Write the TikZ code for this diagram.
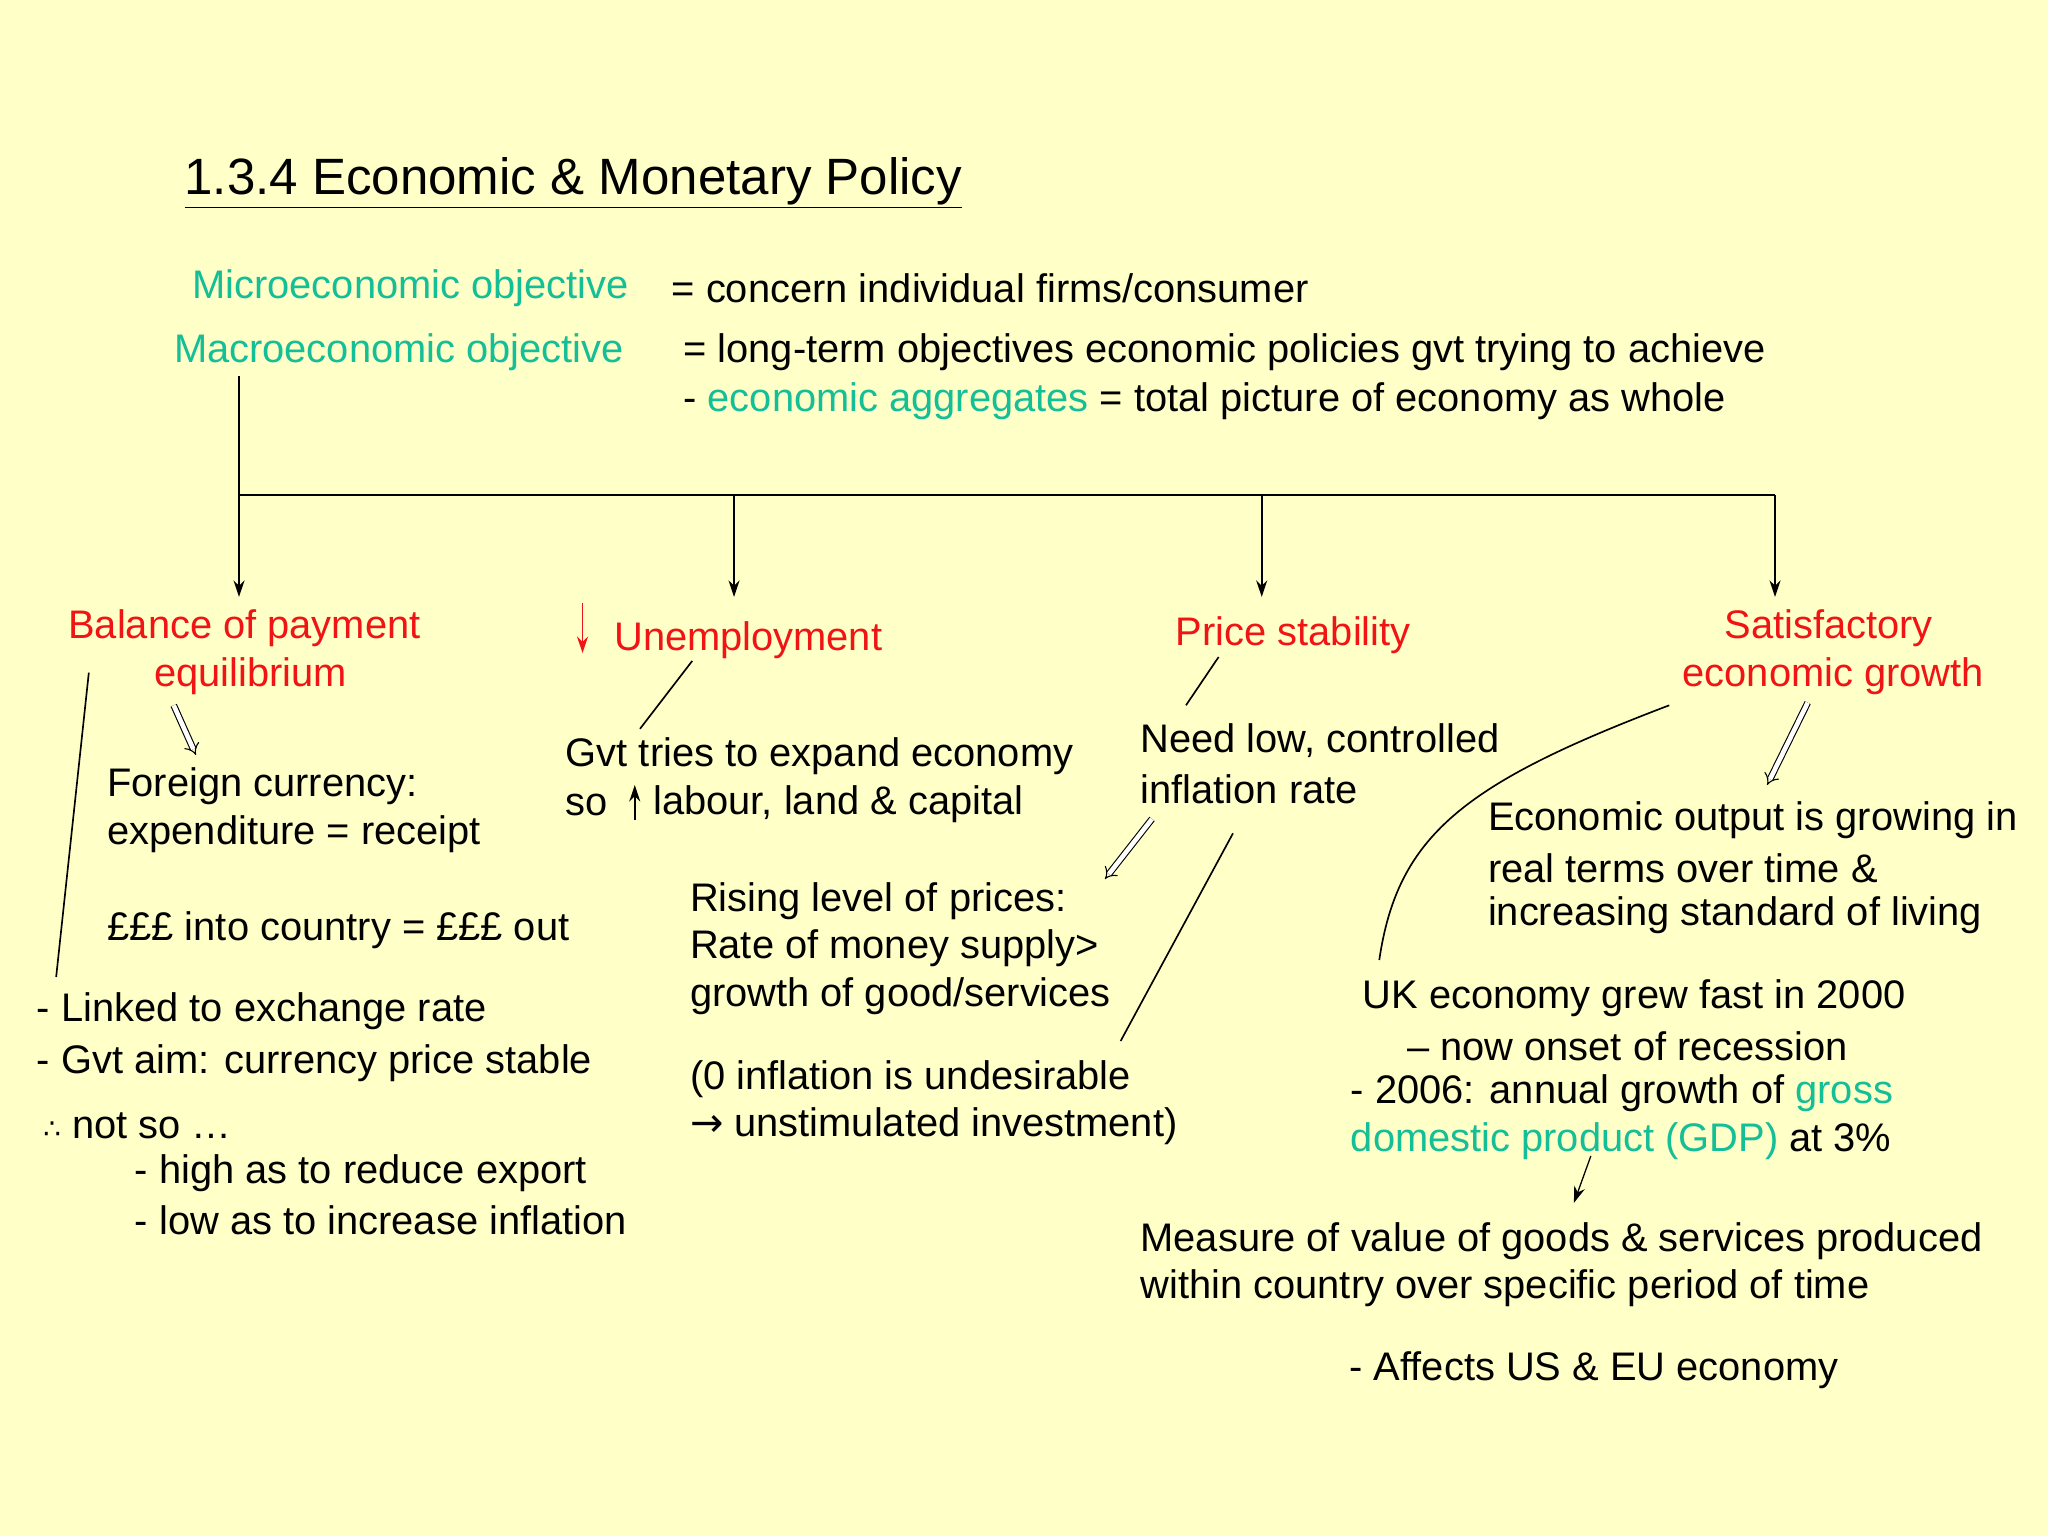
\documentclass[tikz,border=0pt]{standalone}
\usepackage{fontspec}
\setmainfont{Liberation Sans}
\newfontfamily\symf{DejaVu Sans}
\usetikzlibrary{arrows.meta}
\definecolor{bgc}{RGB}{255,255,200}
\definecolor{teal2}{RGB}{20,190,150}
\definecolor{red2}{RGB}{240,20,20}
\begin{document}
\begin{tikzpicture}[x=0.025cm,y=-0.025cm,
  t/.style={anchor=west,inner sep=0,font=\fontsize{21.7}{26}\selectfont},
  tt/.style={t,text=teal2},
  tr/.style={t,text=red2},
  ar/.style={-{Stealth[length=9pt,width=6pt]},line width=0.9pt},
  ln/.style={line width=0.9pt},
  dbl/.style={double,double distance=2.5pt,line width=0.6pt,-{Implies[length=8pt]}}]
\fill[bgc] (0,0) rectangle (1568,1176);
\useasboundingbox (0,0) rectangle (1568,1176);
\node[t,font=\fontsize{27.8}{31}\selectfont] (title) at (141,140) {\underline{1.3.4 Economic \& Monetary Policy}};
\node[tt] (mi) at (147,221) {Microeconomic objective};
\node[t] (mi2) at (514,221) {= concern individual firms/consumer};
\node[tt] (ma) at (133,270) {Macroeconomic objective};
\node[t] (ma2) at (523,270) {= long-term objectives economic policies gvt trying to achieve};
\node[t] (ma3) at (523,307) {- \textcolor{teal2}{economic aggregates} = total picture of economy as whole};
% tree
\coordinate (top) at (183,288);
\coordinate (j1) at (183,379); \coordinate (j2) at (562,379);
\coordinate (j3) at (966,379); \coordinate (j4) at (1359,379);
\coordinate (e1) at (183,457); \coordinate (e2) at (562,457);
\coordinate (e3) at (966,457); \coordinate (e4) at (1359,457);
\draw[ln] (top) -- (j1) -- (j4);
\draw[ar] (j1) -- (e1); \draw[ar] (j2) -- (e2); \draw[ar] (j3) -- (e3); \draw[ar] (j4) -- (e4);
% headings
\node[tr] (b1) at (52,481) {Balance of payment};
\node[tr] (b2) at (118,518) {equilibrium};
\coordinate (ua) at (446,462); \coordinate (ub) at (446,500);
\draw[ar,red2] (ua) -- (ub);
\node[tr] (un) at (470,490) {Unemployment};
\node[tr] (ps) at (900,486) {Price stability};
\node[tr] (s1) at (1320,481) {Satisfactory};
\node[tr] (s2) at (1288,518) {economic growth};
% column 1
\coordinate (d1a) at (133,540); \coordinate (d1b) at (150,578);
\draw[dbl] (d1a) -- (d1b);
\node[t] (fc1) at (82,602) {Foreign currency:};
\node[t] (fc2) at (82,639) {expenditure = receipt};
\node[t] (ppp) at (82,712) {£££ into country = £££ out};
\coordinate (l1a) at (68,515); \coordinate (l1b) at (43,748);
\draw[ln] (l1a) -- (l1b);
\node[t] (lk) at (28,774) {- Linked to exchange rate};
\node[t] (ga) at (28,814) {- Gvt aim: currency price stable};
\node[t] (ns) at (33,862) {{\symf\fontsize{15}{16}\selectfont ∴} not so …};
\node[t] (hi) at (103,898) {- high as to reduce export};
\node[t] (lo) at (103,934) {- low as to increase inflation};
% column 2
\coordinate (l2a) at (530,506); \coordinate (l2b) at (490,558);
\draw[ln] (l2a) -- (l2b);
\node[t] (g1) at (433,579) {Gvt tries to expand economy};
\node[t] (g2) at (433,616) {so};
\coordinate (ua2) at (486,628); \coordinate (ub2) at (486,601);
\draw[ar] (ua2) -- (ub2);
\node[t] (g3) at (500,616) {labour, land \& capital};
\node[t] (r1) at (528,690) {Rising level of prices:};
\node[t] (r2) at (528,726) {Rate of money supply>};
\node[t] (r3) at (528,763) {growth of good/services};
\node[t] (z1) at (528,826) {(0 inflation is undesirable};
\node[t] (z2) at (528,862) {{\symf →} unstimulated investment)};
% column 3
\coordinate (l3a) at (933,503); \coordinate (l3b) at (908,540);
\draw[ln] (l3a) -- (l3b);
\node[t] (n1) at (873,567) {Need low, controlled};
\node[t] (n2) at (873,604) {inflation rate};
\coordinate (d3a) at (882,627); \coordinate (d3b) at (846,673);
\draw[dbl] (d3a) -- (d3b);
\coordinate (l4a) at (944,638); \coordinate (l4b) at (858,797);
\draw[ln] (l4a) -- (l4b);
% column 4
\coordinate (d4a) at (1384,538); \coordinate (d4b) at (1353,601);
\draw[dbl] (d4a) -- (d4b);
\node[t] (o1) at (1139,628) {Economic output is growing in};
\node[t] (o2) at (1139,665) {real terms over time \&};
\node[t] (o3) at (1139,701) {increasing standard of living};
\coordinate (ca) at (1278,540); \coordinate (cb) at (1056,735);
\draw[ln] (ca) .. controls (1120,600) and (1070,640) .. (cb);
\node[t] (k1) at (1043,764) {UK economy grew fast in 2000};
\node[t] (k2) at (1077,801) {– now onset of recession};
\node[t] (k3) at (1034,837) {- 2006: annual growth of \textcolor{teal2}{gross}};
\node[t] (k4) at (1034,874) {\textcolor{teal2}{domestic product (GDP)} at 3\%};
\coordinate (ga1) at (1218,885); \coordinate (ga2) at (1205,921);
\draw[ar,line width=0.7pt] (ga1) -- (ga2);
\node[t] (m1) at (873,950) {Measure of value of goods \& services produced};
\node[t] (m2) at (873,986) {within country over specific period of time};
\node[t] (af) at (1033,1049) {- Affects US \& EU economy};
\end{tikzpicture}
\end{document}
